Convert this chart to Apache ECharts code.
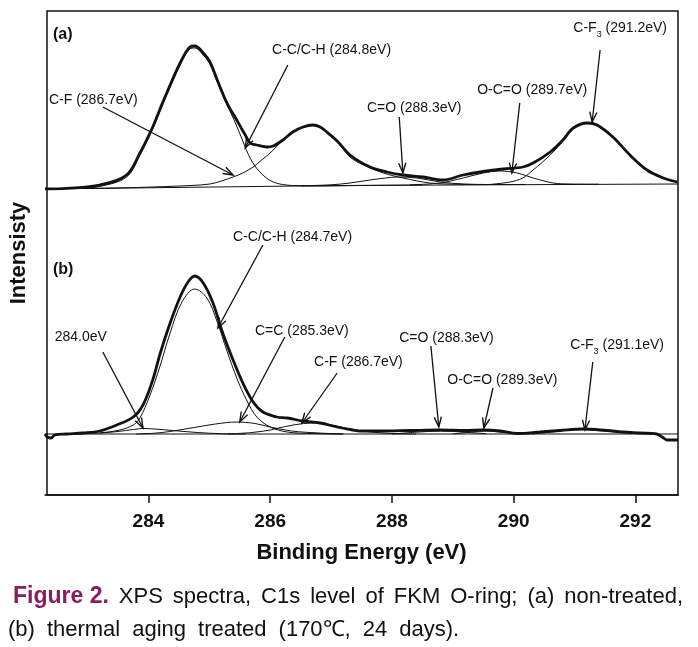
<!DOCTYPE html>
<html><head><meta charset="utf-8">
<script src="https://cdn.jsdelivr.net/npm/echarts@6/dist/echarts.min.js"></script>
<style>html,body{margin:0;padding:0;background:#fff}#c{width:698px;height:647px}</style>
</head><body><div id="c"></div>
<script>
// ---------- DATA ----------
const xMin = 282.3, xMax = 292.7;
const xTicks = [284, 286, 288, 290, 292];

// (a) non-treated  [binding energy eV, intensity a.u.]
const aEnvelope = [[282.30,0],[282.66,0.7],[283.20,4],[283.64,14],[283.86,36],[284.07,62],[284.19,80],[284.30,96],[284.52,126],[284.68,142],[284.76,143],[284.90,136],[285.01,127],[285.13,109],[285.29,86],[285.45,69],[285.59,54],[285.67,46],[285.78,44],[285.95,42],[286.05,43],[286.21,49],[286.37,57],[286.54,62],[286.70,64],[286.82,62],[286.93,57],[287.10,48],[287.31,34],[287.64,22],[287.92,17],[288.18,14],[288.51,12],[288.84,9],[289.17,14],[289.45,17],[289.83,20],[290.15,22],[290.32,26],[290.60,37],[290.81,49],[290.98,61],[291.21,66],[291.37,64],[291.63,52],[291.91,34],[292.19,19],[292.46,11],[292.69,7]];
const aCCH = [[282.30,0],[282.90,1],[283.20,2.5],[283.64,12],[283.86,34],[284.07,60],[284.19,78],[284.30,94],[284.52,124],[284.68,140],[284.76,141],[284.90,134],[285.01,125],[285.13,107],[285.29,84],[285.40,70],[285.55,48],[285.67,31],[285.83,17],[286.05,7],[286.37,3.5],[286.82,3],[287.50,3.5],[288.50,4]];
const aCF = [[283.00,0.5],[283.80,1.5],[284.30,2.5],[284.70,3.5],[285.01,5],[285.20,8],[285.39,12],[285.55,16],[285.72,22],[285.86,29],[286.00,36],[286.21,49],[286.37,57],[286.54,62],[286.70,64],[286.82,62],[286.93,57],[287.15,44],[287.31,32],[287.53,24],[287.86,16],[288.18,11],[288.62,6],[288.90,5],[289.50,4.5],[290.20,4.5]];
const aCO = [[286.50,3.2],[287.00,4.2],[287.31,6],[287.64,9],[287.90,11],[288.08,12],[288.41,11],[288.79,7],[289.17,5],[289.60,4.5]];
const aOCO = [[288.30,4.2],[288.79,6],[289.17,11],[289.50,16],[289.78,18],[290.06,16],[290.32,11],[290.65,6],[290.93,5],[291.40,4.8]];
const aCF3 = [[289.60,4.5],[289.94,7],[290.15,11],[290.32,19],[290.60,34],[290.81,48],[290.98,61],[291.21,66],[291.37,64],[291.63,52],[291.91,34],[292.19,19],[292.46,11],[292.69,7]];
const aBackground = [[282.30,0],[287.15,3.5],[292.70,5]];

// (b) thermal aging treated
const bEnvelope = [[282.30,0],[282.34,-3],[282.40,-4],[282.46,-1],[282.66,0],[282.92,1],[283.20,3],[283.48,9],[283.75,17],[283.91,29],[284.07,54],[284.19,80],[284.35,110],[284.52,137],[284.65,152],[284.76,158],[284.90,151],[285.06,131],[285.22,101],[285.39,74],[285.55,51],[285.72,32],[285.88,22],[286.11,17],[286.28,16],[286.54,13],[286.82,11],[287.10,7],[287.36,4],[287.48,3],[287.81,3],[288.30,3.5],[288.79,4],[289.20,3.5],[289.50,4],[289.78,3],[290.06,0.5],[290.43,2],[290.76,3.5],[291.13,5],[291.53,3.5],[291.79,2],[292.07,1],[292.35,0],[292.44,-3],[292.52,-6],[292.70,-6]];
const bCCH = [[283.20,1],[283.53,4],[283.75,9],[283.86,16],[284.02,38],[284.19,68],[284.35,100],[284.55,132],[284.76,145],[284.96,136],[285.13,112],[285.29,83],[285.45,56],[285.62,33],[285.78,17],[286.00,7],[286.28,2],[286.70,0.5],[287.20,0]];
const b2840 = [[282.80,0],[283.20,1],[283.50,2.5],[283.75,4.5],[283.91,5.5],[284.10,5],[284.40,3.5],[284.80,1.5],[285.20,0.3],[285.60,0]];
const bCC = [[283.80,0],[284.10,0.8],[284.35,2.5],[284.75,6.5],[285.10,10],[285.45,12],[285.75,10.5],[286.00,7],[286.35,3],[286.80,1],[287.20,0]];
const bCF = [[285.30,0],[285.70,1.5],[286.00,4],[286.25,7.5],[286.55,10.5],[286.80,11],[287.05,8.5],[287.35,4.5],[287.65,2],[288.00,0.5],[288.40,0]];
const bCO = [[288.00,0],[288.40,1.8],[288.80,3],[289.20,1.8],[289.55,0.3]];
const bOCO = [[289.00,0],[289.30,2],[289.55,3],[289.85,1.5],[290.15,0]];
const bCF3 = [[290.30,0],[290.70,2.5],[291.10,4.5],[291.50,3],[291.90,1],[292.30,0]];
const bBackground = [[282.30,0],[292.70,0]];

// text
const yTitle = 'Intensisty';
const xTitle = 'Binding Energy (eV)';
const aTexts = ['(a)','C-C/C-H (284.8eV)','C-F (286.7eV)','C=O (288.3eV)','O-C=O (289.7eV)','C-F{s|3} (291.2eV)'];
const bTexts = ['(b)','C-C/C-H (284.7eV)','284.0eV','C=C (285.3eV)','C-F (286.7eV)','C=O (288.3eV)','O-C=O (289.3eV)','C-F{s|3} (291.1eV)'];
const captionLine1 = ['Figure 2.','XPS','spectra,','C1s','level','of','FKM','O-ring;','(a)','non-treated,'];
const captionLine2 = ['(b)','thermal','aging','treated','(170℃,','24','days).'];

// ---------- LAYOUT (annotation anchors in data space) ----------
const aTextAt = [[282.43,154],[286.03,139],[282.365,89],[287.59,81],[289.40,99],[290.98,161]];
const aArrowAt = [[286.29,124,285.59,41],[283.25,82,285.39,14],[288.12,72,288.18,16],[290.10,86,289.97,16],[291.42,139,291.29,67]];
const bTextAt = [[282.43,164],[285.39,197],[282.46,97],[285.75,103],[286.72,72],[288.12,96],[288.91,54],[290.93,89]];
const bArrowAt = [[285.88,189,285.14,106],[283.25,82,283.91,6],[286.24,97,285.50,12],[287.10,61,286.52,11],[288.64,88,288.77,7],[289.66,46,289.51,6],[291.30,72,291.17,4]];

const INK = '#111';
const FONT = '"Liberation Sans", Arial, sans-serif';
const NARROW = '"Liberation Sans Narrow", "Liberation Sans", Arial, sans-serif';

const chart = echarts.init(document.getElementById('c'), null, {renderer: 'canvas'});

function curve(data, gi, width, smooth) {
  return {type: 'line', xAxisIndex: gi, yAxisIndex: gi, data: data, symbol: 'none', showSymbol: false,
    smooth: smooth === undefined ? 0.35 : smooth, lineStyle: {color: INK, width: width},
    silent: true, animation: false, z: width > 2 ? 4 : 3, clip: true};
}

chart.setOption({
  animation: false,
  backgroundColor: '#fff',
  grid: [
    {left: 45, top: 11, width: 633, height: 178, show: false},
    {left: 45, top: 189, width: 633, height: 306, show: false},
    {left: 45, top: 11, width: 633, height: 484, show: true, borderColor: INK, borderWidth: 1.5, backgroundColor: 'rgba(0,0,0,0)'}
  ],
  xAxis: [
    {gridIndex: 0, type: 'value', min: xMin, max: xMax, show: false},
    {gridIndex: 1, type: 'value', min: xMin, max: xMax, position: 'bottom',
      axisLine: {show: true, onZero: false, lineStyle: {color: INK, width: 1.5}},
      axisTick: {show: true, inside: false, length: 8, customValues: xTicks, lineStyle: {color: INK, width: 1.5}},
      axisLabel: {show: true, customValues: xTicks, margin: 17, fontFamily: NARROW, fontWeight: 'bold', fontSize: 19, color: INK},
      splitLine: {show: false},
      name: xTitle, nameLocation: 'middle', nameGap: 47,
      nameTextStyle: {fontFamily: NARROW, fontWeight: 'bold', fontSize: 22, color: INK}},
    {gridIndex: 2, type: 'value', min: 0, max: 1, show: false}
  ],
  yAxis: [
    {gridIndex: 0, type: 'value', min: 0, max: 178, show: false},
    {gridIndex: 1, type: 'value', min: -61, max: 245, show: false},
    {gridIndex: 2, type: 'value', min: 0, max: 1, show: true,
      axisLine: {show: false}, axisTick: {show: false}, axisLabel: {show: false}, splitLine: {show: false},
      name: yTitle, nameLocation: 'middle', nameGap: 17, nameRotate: 90,
      nameTextStyle: {fontFamily: NARROW, fontWeight: 'bold', fontSize: 22, color: INK}}
  ],
  series: [
    curve(aBackground, 0, 1, false),
    curve(aCCH, 0, 1), curve(aCF, 0, 1), curve(aCO, 0, 1), curve(aOCO, 0, 1), curve(aCF3, 0, 1),
    curve(aEnvelope, 0, 2.8),
    curve(bBackground, 1, 1, false),
    curve(b2840, 1, 1), curve(bCCH, 1, 1), curve(bCC, 1, 1), curve(bCF, 1, 1), curve(bCO, 1, 1), curve(bOCO, 1, 1), curve(bCF3, 1, 1),
    curve(bEnvelope, 1, 2.8)
  ]
});

// ---------- annotations ----------
const g = [];
function toPx(gi, x, y) { return chart.convertToPixel({gridIndex: gi}, [x, y]); }
function arrow(gi, a) {
  const p0 = toPx(gi, a[0], a[1]), p1 = toPx(gi, a[2], a[3]);
  const dx = p1[0] - p0[0], dy = p1[1] - p0[1], L = Math.hypot(dx, dy);
  const ux = dx / L, uy = dy / L, nx = -uy, ny = ux;
  const hl = 10, hw = 3.6;
  g.push({type: 'line', silent: true, z: 10, shape: {x1: p0[0], y1: p0[1], x2: p1[0], y2: p1[1]}, style: {stroke: INK, lineWidth: 1.3}});
  g.push({type: 'polyline', silent: true, z: 10, shape: {points: [
    [p1[0] - hl * ux + hw * nx, p1[1] - hl * uy + hw * ny], [p1[0], p1[1]],
    [p1[0] - hl * ux - hw * nx, p1[1] - hl * uy - hw * ny]]}, style: {stroke: INK, lineWidth: 1.4, fill: null}});
}
function label(gi, text, at, bold) {
  const p = toPx(gi, at[0], at[1]);
  g.push({type: 'text', silent: true, z: 11, x: p[0], y: p[1], style: {
    text: text, fill: INK, align: 'left', verticalAlign: 'middle',
    fontFamily: FONT, fontSize: bold ? 16 : 14, fontWeight: bold ? 'bold' : 'normal', lineHeight: 16,
    rich: {s: {fontSize: 9, fontFamily: FONT, fill: INK, verticalAlign: 'bottom', lineHeight: 9, padding: [0, 0, -3, 0]}}
  }});
}
aArrowAt.forEach(a => arrow(0, a));
bArrowAt.forEach(a => arrow(1, a));
aTexts.forEach((t, i) => label(0, t, aTextAt[i], i === 0));
bTexts.forEach((t, i) => label(1, t, bTextAt[i], i === 0));

// caption (line 1 justified, line 2 with wide word gaps)
const capSize = 22, capBold = 23;
const ctx = document.createElement('canvas').getContext('2d');
function w(word, bold) { ctx.font = (bold ? 'bold ' + capBold : capSize) + 'px ' + FONT; return ctx.measureText(word).width; }
const x0 = 13, x1 = 683;
const widths1 = captionLine1.map((s, i) => w(s, i === 0));
const gap1 = (x1 - x0 - widths1.reduce((s, v) => s + v, 0)) / (captionLine1.length - 1);
let cx = x0;
captionLine1.forEach((s, i) => {
  g.push({type: 'text', silent: true, x: cx, y: 597, style: {text: s, fill: i === 0 ? '#8a1c5f' : INK,
    fontFamily: FONT, fontSize: i === 0 ? capBold : capSize, fontWeight: i === 0 ? 'bold' : 'normal', align: 'left', verticalAlign: 'middle'}});
  cx += widths1[i] + gap1;
});
const gap2 = 12;
cx = 8;
captionLine2.forEach((s) => {
  g.push({type: 'text', silent: true, x: cx, y: 630, style: {text: s, fill: INK,
    fontFamily: FONT, fontSize: capSize, align: 'left', verticalAlign: 'middle'}});
  cx += w(s, false) + gap2;
});

chart.setOption({graphic: g});
</script></body></html>
